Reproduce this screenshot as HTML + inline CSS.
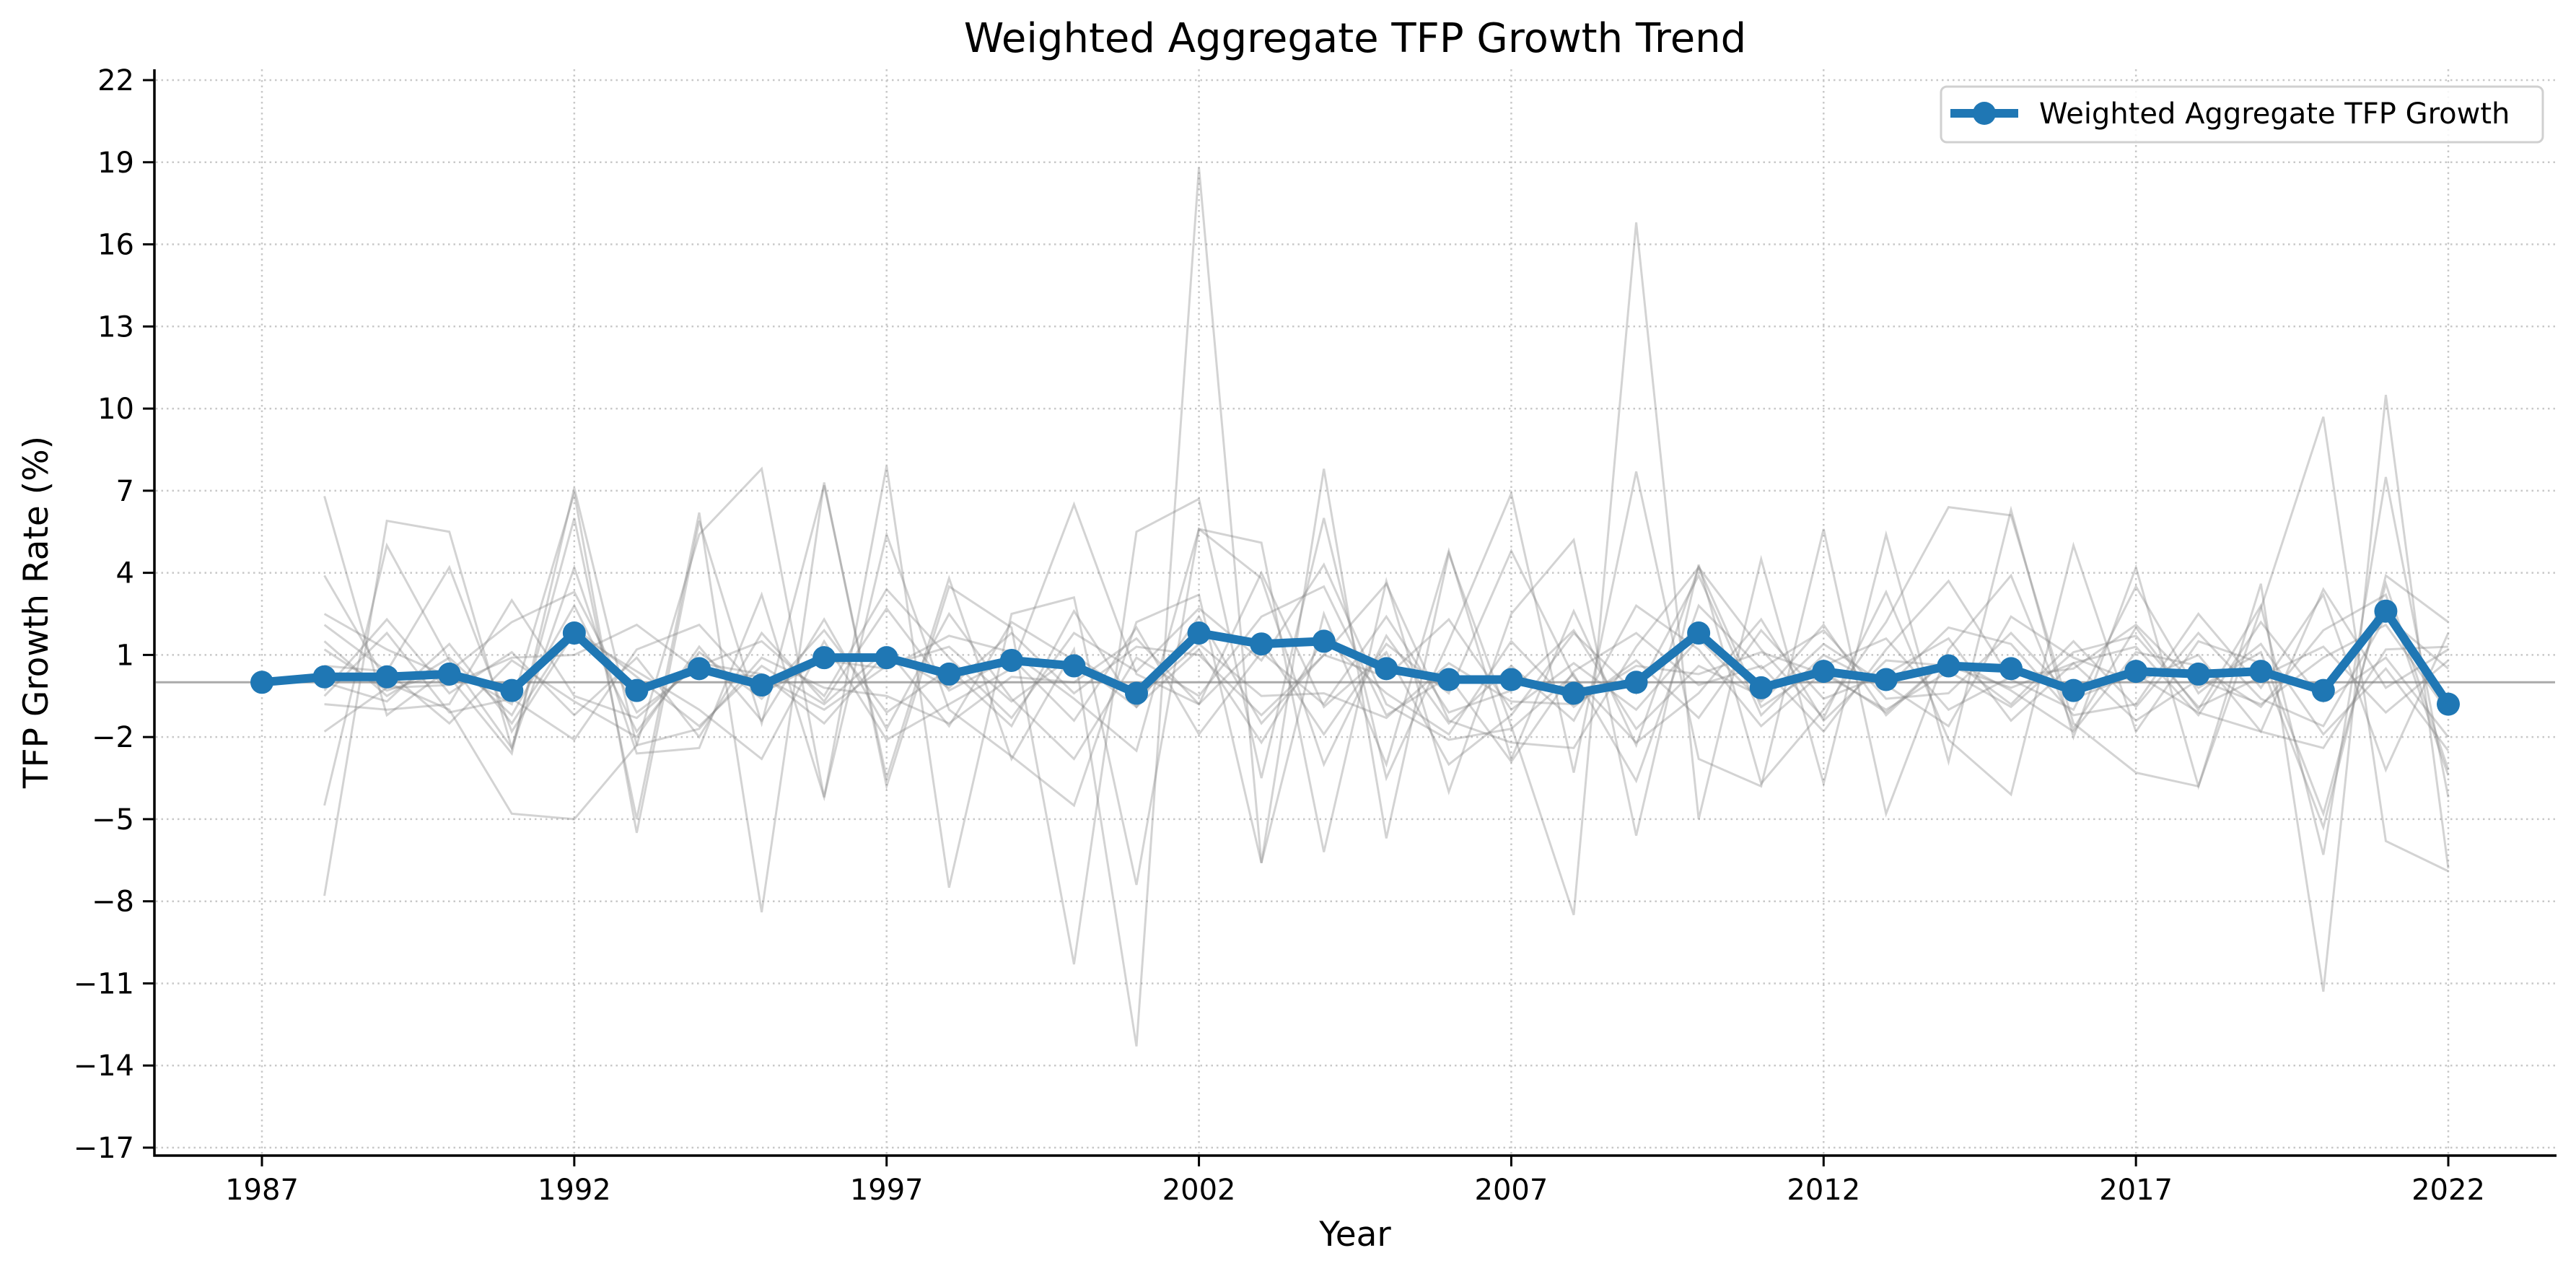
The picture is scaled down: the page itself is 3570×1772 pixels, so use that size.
<!DOCTYPE html>
<html><head><meta charset="utf-8"><style>
html,body{margin:0;padding:0;background:#fff}
svg text{font-family:"DejaVu Sans","Liberation Sans",sans-serif}
</style></head><body>
<svg id="chart" width="3570" height="1767" viewBox="0 0 3570 1767"></svg>
<script>
const years=[];for(let y=1987;y<=2022;y++)years.push(y);
const aggregate=[0.0,0.2,0.2,0.3,-0.3,1.8,-0.3,0.5,-0.1,0.9,0.9,0.3,0.8,0.6,-0.4,1.8,1.4,1.5,0.5,0.1,0.1,-0.4,0.0,1.8,-0.2,0.4,0.1,0.6,0.5,-0.3,0.4,0.3,0.4,-0.3,2.6,-0.8];
const yTicks=[22,19,16,13,10,7,4,1,-2,-5,-8,-11,-14,-17];
const xTicks=[1987,1992,1997,2002,2007,2012,2017,2022];
// individual series, years 1988..2022
const s1=[6.8,-1.2,0.5,-0.8,6.9,-5.5,5.9,-1.5,7.2,-3.5,3.8,-2.8,1.2,-13.3,18.8,-6.6,7.8,-5.7,4.7,-1.6,-8.5,16.8,-5.0,4.5,-3.7,5.4,-2.9,6.3,-2.0,4.2,-3.8,3.6,-11.3,10.5,-6.8];
const s2=[-7.8,5.9,5.5,-2.4,6.0,-5.0,6.2,-8.4,7.3,-3.8,3.5,2.0,-10.3,5.5,6.7,-3.5,6.0,-3.5,1.5,6.9,-3.3,7.7,-2.8,-3.8,5.6,-4.8,1.2,3.9,-1.7,2.0,-1.0,2.8,-6.3,7.5,-4.2];
const s3=[3.9,0.0,-1.0,-4.8,-5.0,-2.3,5.4,7.8,-4.2,7.9,-7.5,2.5,3.1,-7.4,5.6,5.1,-6.2,3.7,-4.0,2.5,5.2,-5.6,4.3,-3.7,-1.0,2.2,6.4,6.1,-1.5,-3.3,-3.8,2.7,9.7,-5.8,-6.9];
const s4=[-4.5,5.0,0.8,-2.4,4.2,-2.6,-2.4,3.2,-4.2,5.4,-1.0,-2.7,-4.5,2.2,3.2,-6.6,2.5,-3.0,4.8,-2.8,2.6,-2.3,4.2,1.2,-1.3,3.3,-2.1,-4.1,5.0,-1.8,1.5,0.7,-5.3,3.9,2.2];
const s5=[2.1,0.4,4.2,-1.8,1.8,0.4,-1.0,-2.8,1.5,-2.1,-0.8,0.5,6.5,0.3,-0.8,4.0,-0.9,1.1,-3.0,-1.2,1.8,-0.4,3.9,-1.2,1.0,-0.2,2.0,1.4,-1.2,-0.8,2.5,-0.2,3.2,-3.2,1.8];
const s6=[-0.5,1.8,-1.1,-0.6,-2.1,1.2,2.1,-0.4,0.8,0.5,1.7,1.1,-0.6,-2.5,5.6,3.8,-3.0,1.7,-1.5,0.6,-1.4,2.8,1.2,-1.6,0.4,-1.1,0.9,-0.3,-1.8,1.1,0.6,-0.9,1.9,3.2,-3.4];
const s7=[1.2,-0.3,0.4,2.2,3.3,-1.1,0.6,1.5,-0.5,3.4,0.9,-1.3,1.8,0.4,2.7,0.8,4.3,-0.8,-2.1,-1.7,0.3,-3.6,2.8,0.5,1.9,-0.6,-0.4,1.8,-0.6,0.3,-1.1,-1.8,-2.4,1.2,1.3];
const s8=[-0.8,-1.0,-0.8,3.0,-0.5,-1.3,0.7,0.3,-1.5,1.1,-0.2,1.8,-0.4,1.3,1.0,-1.2,1.0,3.6,-1.4,-2.2,-2.4,1.3,4.2,-0.9,0.6,1.6,-1.0,0.2,0.5,2.1,-0.2,1.1,-4.8,3.6,-3.2];
const s9=[0.6,0.4,-1.5,0.8,-0.7,-2.0,1.3,-1.4,2.3,-1.7,2.5,-0.6,-2.8,0.9,-0.5,2.4,3.5,-1.2,0.2,-2.9,0.4,1.8,-0.1,0.6,-1.8,1.2,3.7,0.1,-1.0,3.5,-0.4,1.4,-1.9,0.5,-2.5];
const s10=[0.0,-0.7,1.4,-1.5,2.0,0.2,-1.6,0.6,-0.8,1.2,-1.6,2.2,0.8,-0.9,2.4,-1.5,1.0,0.2,2.3,-1.0,0.7,-1.0,1.6,-0.7,1.4,-0.1,-1.6,2.4,0.9,0.0,1.0,-1.8,3.4,-0.2,1.2];
const s11=[2.5,1.2,0.2,-2.6,7.1,-2.3,-1.7,0.9,-0.2,-0.5,-1.5,0.2,0.0,1.6,-0.8,1.5,-1.9,1.4,-0.4,4.8,0.2,-2.2,-0.4,2.3,-1.4,0.8,0.6,-0.2,0.7,-1.4,0.1,-0.8,0.9,2.1,-1.1];
const s12=[-1.8,-0.2,-0.1,0.9,1.0,2.1,0.4,0.2,-1.0,0.6,1.3,-0.7,1.0,-0.6,1.4,-0.5,-0.4,-1.3,0.7,-0.7,-0.8,0.6,0.3,1.1,0.3,-1.0,0.4,-0.9,1.1,1.7,-0.9,0.2,1.3,-1.1,0.8];
const s13=[1.5,-0.5,0.9,-1.2,2.8,-1.8,1.1,-0.6,1.9,-1.1,0.5,-1.6,2.6,-0.9,1.2,-2.2,1.6,-0.4,-1.9,1.5,-0.9,0.8,-1.3,1.9,-0.6,0.3,1.6,-1.4,0.7,1.3,-1.2,2.2,-0.7,0.9,-2.0];
const s14=[-0.3,2.3,-0.4,1.1,-1.2,0.9,-2.0,1.8,-0.7,2.7,-0.3,0.9,-1.4,2.0,-1.9,1.1,-0.8,2.4,-1.1,-0.3,1.9,-1.7,0.6,-0.5,2.1,-1.2,0.9,-0.8,1.5,-0.9,1.8,-0.6,-1.6,2.4,0.5];
const grays=[s1,s2,s3,s4,s5,s6,s7,s8,s9,s10,s11,s12,s13,s14];
const X0=363,X1=3393,Y0=111,Y1=1590;
const xs=y=>X0+(y-1987)*(X1-X0)/35;
const ys=v=>Y1-(v-(-17))*(Y1-Y0)/39;
const svg=document.getElementById('chart');
const NS='http://www.w3.org/2000/svg';
function mk(tag,attrs,parent){const e=document.createElementNS(NS,tag);for(const k in attrs)e.setAttribute(k,attrs[k]);(parent||svg).appendChild(e);return e;}
const grid=mk('g',{});


for(const y of xTicks){const l=mk('line',{x1:xs(y),x2:xs(y),y1:96,y2:1601,stroke:'#c8c8c8','stroke-width':2.5,'stroke-dasharray':'2.5,5'},grid);

}
for(const t of yTicks){const l=mk('line',{x1:216,x2:3541,y1:ys(t),y2:ys(t),stroke:'#c8c8c8','stroke-width':2.5,'stroke-dasharray':'2.5,5'},grid);

}
const z=mk('line',{x1:216,x2:3541,y1:ys(0),y2:ys(0),stroke:'#aaa','stroke-width':3});


grays.forEach((s,i)=>{const pts=s.map((v,j)=>xs(1988+j)+','+ys(v)).join(' ');
const p=mk('polyline',{points:pts,fill:'none',stroke:'rgba(128,128,128,0.35)','stroke-width':3});

});
const ag=mk('g',{});


mk('polyline',{points:aggregate.map((v,i)=>xs(years[i])+','+ys(v)).join(' '),fill:'none',stroke:'#1f77b4','stroke-width':12,'stroke-linejoin':'round'},ag);
aggregate.forEach((v,i)=>{const c=mk('circle',{cx:xs(years[i]),cy:ys(v),r:16,fill:'#1f77b4'},ag);

});
const sp=mk('path',{d:'M214 96 V1601 H3543',fill:'none',stroke:'#000','stroke-width':3.5});


for(const t of yTicks){mk('line',{x1:198,x2:214,y1:ys(t),y2:ys(t),stroke:'#000','stroke-width':3});
const tx=mk('text',{x:186,y:ys(t)+14,'text-anchor':'end','font-size':40});tx.textContent=t<0?'\u2212'+(-t):t;

}
for(const t of xTicks){mk('line',{x1:xs(t),x2:xs(t),y1:1601,y2:1616,stroke:'#000','stroke-width':3});
const tx=mk('text',{x:xs(t),y:1662,'text-anchor':'middle','font-size':40});tx.textContent=t;

}
</script>
<svg width="3570" height="1767" style="position:absolute;left:0;top:0;pointer-events:none">
<text x="1878" y="72" text-anchor="middle" font-size="56" font-family="DejaVu Sans,Liberation Sans,sans-serif">Weighted Aggregate TFP Growth Trend</text>
<text x="1878" y="1726" text-anchor="middle" font-size="47" font-family="DejaVu Sans,Liberation Sans,sans-serif">Year</text>
<text transform="translate(66,848) rotate(-90)" text-anchor="middle" font-size="47" font-family="DejaVu Sans,Liberation Sans,sans-serif">TFP Growth Rate (%)</text>
<g>
<rect x="2690" y="120" width="834" height="77" rx="8" fill="#fff" fill-opacity="0.85" stroke="#d0d0d0" stroke-width="3"/>
<line x1="2703" y1="157" x2="2797" y2="157" stroke="#1f77b4" stroke-width="12"/>
<circle cx="2750" cy="157" r="16" fill="#1f77b4"/>
<text x="2826" y="171" font-size="40" font-family="DejaVu Sans,Liberation Sans,sans-serif">Weighted Aggregate TFP Growth</text>
</g>
</svg>
</body></html>
